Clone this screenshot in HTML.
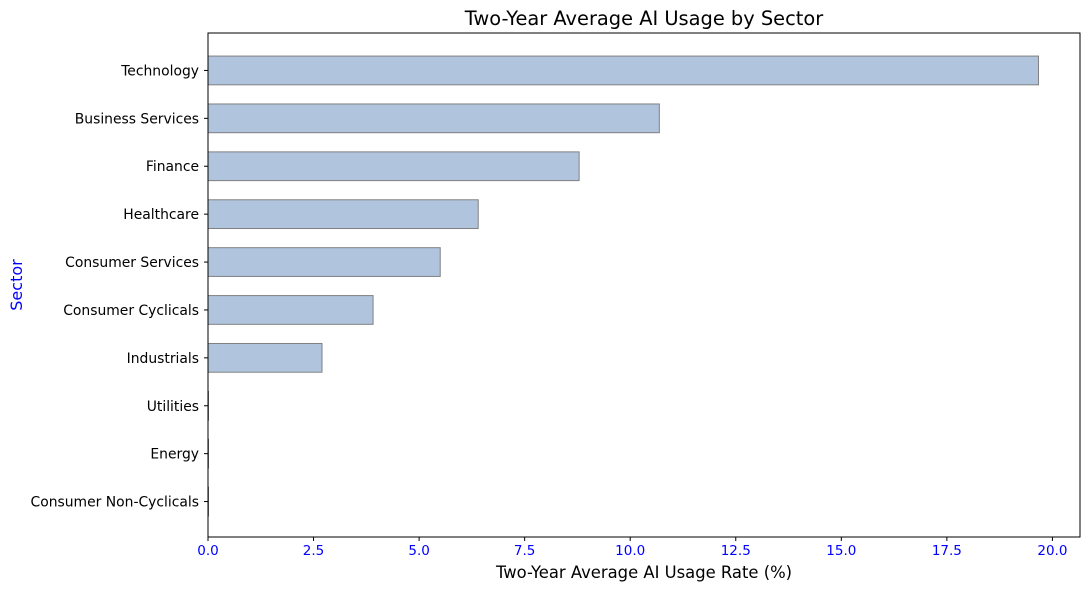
<!DOCTYPE html>
<html><head><meta charset="utf-8"><style>
body{margin:0;background:#fff;font-family:"Liberation Sans","DejaVu Sans",sans-serif;}
svg text{font-family:"DejaVu Sans","Liberation Sans",sans-serif;}
</style></head><body>
<svg id="chart" width="1089" height="590" xmlns="http://www.w3.org/2000/svg">
<rect width="1089" height="590" fill="#fff"/>
<text x="644" y="25" font-size="19.4" text-anchor="middle" fill="#000">Two-Year Average AI Usage by Sector</text>
<text x="644" y="578" font-size="16.4" text-anchor="middle" fill="#000">Two-Year Average AI Usage Rate (%)</text>
<text transform="translate(22,285) rotate(-90)" font-size="16" text-anchor="middle" fill="blue">Sector</text>
<g id="bars"></g><g id="xticks"></g><g id="yticks"></g>
<rect x="208" y="33" width="872" height="504" fill="none" stroke="#000" stroke-width="1"/>
</svg>
<script>
const categories=["Technology","Business Services","Finance","Healthcare","Consumer Services","Consumer Cyclicals","Industrials","Utilities","Energy","Consumer Non-Cyclicals"];
const values=[19.67,10.69,8.79,6.40,5.50,3.91,2.70,0,0,0];
const xTickValues=[0,2.5,5,7.5,10,12.5,15,17.5,20];
const xTickLabels=["0.0","2.5","5.0","7.5","10.0","12.5","15.0","17.5","20.0"];
const NS="http://www.w3.org/2000/svg";
const L=208,R=1080,T=33,B=537;
const xmax=Math.max(...values)*1.05;
const x=v=>L+v/xmax*(R-L);
const n=categories.length;
const ylo=-0.3-0.048*(n-1+0.6),yhi=(n-1)+0.3+0.048*(n-1+0.6);
const y=i=>B+1-(((n-1-i))-ylo)/(yhi-ylo)*(B-T);
const unit=(B-T)/(yhi-ylo);
function mk(tag,attrs,parent){const e=document.createElementNS(NS,tag);for(const k in attrs)e.setAttribute(k,attrs[k]);document.getElementById(parent).appendChild(e);return e;}
categories.forEach((c,i)=>{
  const r=mk('rect',{x:x(0),y:y(i)-0.3*unit,width:Math.max(x(values[i])-x(0),0.5),height:0.6*unit,fill:'#b0c4de',stroke:'#808080','stroke-width':1},'bars');
  
  
  const tk=mk('line',{x1:L-4,x2:L,y1:y(i),y2:y(i),stroke:'#000'},'yticks');
  
  
  const t=mk('text',{x:L-9,y:y(i)+5,'font-size':13.9,'text-anchor':'end',fill:'#000'},'yticks');
  t.textContent=c;
  
  
});
xTickValues.forEach((v,i)=>{
  const tk=mk('line',{x1:x(v),x2:x(v),y1:B,y2:B+4,stroke:'#000'},'xticks');
  
  
  const t=mk('text',{x:x(v),y:B+18,'font-size':13.5,'text-anchor':'middle',fill:'blue'},'xticks');
  t.textContent=xTickLabels[i];
  
  
});
</script>
</body></html>
